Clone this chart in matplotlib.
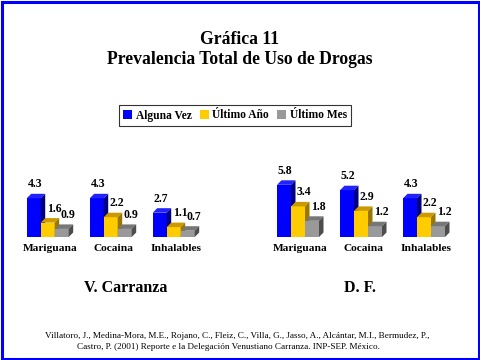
import numpy as np
import matplotlib
matplotlib.use('Agg')
import matplotlib.pyplot as plt
from matplotlib.patches import Polygon, Rectangle, Patch

# datos
categorias = ['Mariguana', 'Cocaina', 'Inhalables']
series = ['Alguna Vez', 'Último Año', 'Último Mes']
carranza = [[4.3, 4.3, 2.7], [1.6, 2.2, 1.1], [0.9, 0.9, 0.7]]
df = [[5.8, 5.2, 4.3], [3.4, 2.9, 2.2], [1.8, 1.2, 1.2]]

frente = ['#0000FF', '#FFCC00', '#999999']
arriba = ['#2222FF', '#CC9900', '#777777']
lado = ['#000080', '#997700', '#4D4D4D']

plt.rcParams['font.family'] = ['Liberation Serif', 'DejaVu Serif']

W, H = 480, 360
fig = plt.figure(figsize=(4.8, 3.6), dpi=100)

w = 14 / 63.0   # ancho de barra
dx = 4.5 / 63.0   # profundidad x
dy = 4.5 / 9.0    # profundidad y


def grafica(x0_px, datos):
    # x0_px: pixel del centro del primer grupo
    ax = fig.add_axes([(x0_px - 31.5) / W, 123 / H, 189 / W, 67.5 / H])
    ax.set_xlim(-0.5, 2.5)
    ax.set_ylim(0, 7.5)
    for s in ax.spines.values():
        s.set_visible(False)
    ax.set_yticks([])
    ax.set_xticks(np.arange(len(categorias)) + 0.04)
    ax.set_xticklabels(categorias, fontsize=8.2, fontweight='bold')
    ax.tick_params(axis='x', length=0, pad=5)
    for j, vals in enumerate(datos):
        xs = np.arange(len(categorias)) - 1.5 * w + j * w
        ax.bar(xs, vals, width=w, align='edge', color=frente[j], zorder=3 + j, linewidth=0)
        for x, v in zip(xs, vals):
            top = Polygon([(x, v), (x + w, v), (x + w + dx, v + dy), (x + dx, v + dy)],
                          closed=True, facecolor=arriba[j], edgecolor='none', zorder=3 + j)
            side = Polygon([(x + w, 0), (x + w, v), (x + w + dx, v + dy), (x + w + dx, dy)],
                           closed=True, facecolor=lado[j], edgecolor='none', zorder=3 + j)
            ax.add_patch(top)
            ax.add_patch(side)
            off = 0.02 if j == 0 else 0.1
            ax.text(x + w / 2 + off, v + dy + 0.4, f'{v}', ha='center', va='bottom',
                    fontsize=8.5, fontweight='bold', zorder=10)
    return ax


grafica(47.7, carranza)
grafica(298.0, df)

fig.text(0.5, 1 - 39 / H, 'Gráfica 11', ha='center', va='center', fontsize=12.7, fontweight='bold')
fig.text(0.5, 1 - 60 / H, 'Prevalencia Total de Uso de Drogas', ha='center', va='center',
         fontsize=12.7, fontweight='bold')

handles = [Patch(facecolor=c, edgecolor='none') for c in frente]
leg = fig.legend(handles, series, loc='center', bbox_to_anchor=(235 / W, 1 - 115.5 / H), ncol=3,
                 frameon=True, fancybox=False, edgecolor='black',
                 prop={'weight': 'bold', 'size': 8.3}, handlelength=0.8, handleheight=0.8,
                 handletextpad=0.3, columnspacing=0.7, borderpad=0.35)
leg.get_frame().set_linewidth(0.8)

fig.text(126 / W, 1 - 288 / H, 'V. Carranza', ha='center', va='center', fontsize=11.5, fontweight='bold')
fig.text(360 / W, 1 - 288 / H, 'D. F.', ha='center', va='center', fontsize=11.5, fontweight='bold')

fig.text(237 / W, 1 - 336 / H,
         'Villatoro, J., Medina-Mora, M.E., Rojano, C., Fleiz, C., Villa, G., Jasso, A., Alcántar, M.I., Bermudez, P.,',
         ha='center', va='center', fontsize=6.6)
fig.text(228 / W, 1 - 347 / H,
         'Castro, P. (2001) Reporte e la Delegación Venustiano Carranza. INP-SEP. México.',
         ha='center', va='center', fontsize=6.6)

fig.patches.append(Rectangle((1.5 / W, 1.5 / H), 1 - 3 / W, 1 - 3 / H, transform=fig.transFigure,
                             fill=False, edgecolor='#0000FF', linewidth=2.2))

fig.savefig('out.png', dpi=100)
